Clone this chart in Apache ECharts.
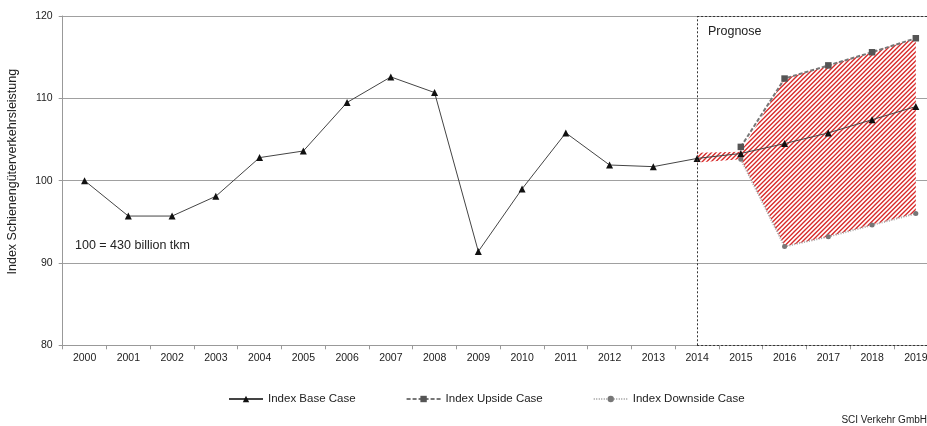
<!DOCTYPE html>
<html>
<head>
<meta charset="utf-8">
<script src="https://cdn.jsdelivr.net/npm/echarts@6/dist/echarts.min.js"></script>
<style>html,body{margin:0;padding:0;background:#fff}#c{width:927px;height:426px}</style>
</head>
<body>
<div id="c"></div>
<script>
const years = ['2000','2001','2002','2003','2004','2005','2006','2007','2008','2009','2010','2011','2012','2013','2014','2015','2016','2017','2018','2019'];
const baseCase = [100.0,95.7,95.7,98.1,102.8,103.6,109.5,112.6,110.7,91.4,99.0,105.8,101.9,101.7,102.7,103.3,104.5,105.8,107.4,109.0];
const upsideCase = [null,null,null,null,null,null,null,null,null,null,null,null,null,null,null,104.1,112.4,114.0,115.6,117.3];
const downsideCase = [null,null,null,null,null,null,null,null,null,null,null,null,null,null,null,102.6,92.0,93.2,94.6,96.0];
const bandLow = [null,null,null,null,null,null,null,null,null,null,null,null,null,null,102.2,102.6,92.0,93.2,94.6,96.0];
const bandHigh = [null,null,null,null,null,null,null,null,null,null,null,null,null,null,103.4,103.5,112.4,114.0,115.6,117.3];
const yTicks = [80,90,100,110,120];
const forecastStart = '2014';

const bandSpan = bandHigh.map((v,i)=> v==null ? null : +(v - bandLow[i]).toFixed(2));

// red diagonal hatch pattern (up-right stripes)
const T = 9;
const pc = document.createElement('canvas');
pc.width = T; pc.height = T;
const g = pc.getContext('2d');
g.fillStyle = '#ffffff'; g.fillRect(0,0,T,T);
g.strokeStyle = '#d82a2a'; g.lineWidth = 1.4;
g.beginPath();
for (const off of [-T, -T/2, 0, T/2, T]) {
  g.moveTo(off - 1, T + 1); g.lineTo(off + T + 1, -1);
}
g.stroke();

const FONT = '"Liberation Sans", Arial, sans-serif';
const chart = echarts.init(document.getElementById('c'), null, {renderer:'canvas'});
chart.setOption({
  animation:false,
  textStyle:{fontFamily:FONT},
  grid:{left:62.7, top:16, bottom:80.7, width:875, containLabel:false, outerBoundsMode:'none'},
  xAxis:{
    type:'category', data:years, boundaryGap:true,
    axisLine:{lineStyle:{color:'#999', width:1}},
    axisTick:{show:true, length:4, lineStyle:{color:'#999'}},
    axisLabel:{color:'#222', fontSize:10.5, margin:7, interval:0}
  },
  yAxis:{
    type:'value', min:yTicks[0], max:yTicks[yTicks.length-1], interval:10,
    name:'Index Schienengüterverkehrsleistung', nameLocation:'middle', nameGap:44,
    nameTextStyle:{color:'#222', fontSize:12.5, padding:[0,0,0,18]},
    axisLine:{show:true, lineStyle:{color:'#999', width:1}},
    axisTick:{show:true, length:4, lineStyle:{color:'#999'}},
    axisLabel:{color:'#222', fontSize:10.5, margin:10},
    splitLine:{show:true, lineStyle:{color:'#a0a0a0', width:1.2}}
  },
  legend:{
    top:388, left:223, itemGap:50, itemWidth:34, itemHeight:8,
    textStyle:{color:'#222', fontSize:11.5},
    data:['Index Base Case','Index Upside Case','Index Downside Case']
  },
  graphic:[
    {type:'text', left:75, top:239, style:{text:'100 = 430 billion tkm', fill:'#222', font:'12.5px '+FONT}},
    {type:'text', left:708, top:25, style:{text:'Prognose', fill:'#222', font:'12.5px '+FONT}},
    {type:'text', right:0, top:415, style:{text:'SCI Verkehr GmbH', fill:'#222', font:'10px '+FONT}}
  ],
  series:[
    {
      name:'bandLow', type:'line', data:bandLow, stack:'band', symbol:'none',
      lineStyle:{opacity:0}, silent:true, z:1
    },
    {
      name:'bandSpan', type:'line', data:bandSpan, stack:'band', symbol:'none',
      lineStyle:{opacity:0}, silent:true, z:1,
      areaStyle:{color:{image:pc, repeat:'repeat'}, opacity:1}
    },
    {
      name:'Index Upside Case', type:'line', data:upsideCase, symbol:'rect', symbolSize:6.5,
      itemStyle:{color:'#555'}, lineStyle:{color:'#777', width:2, type:[4,2]}, z:3
    },
    {
      name:'Index Downside Case', type:'line', data:downsideCase, symbol:'circle', symbolSize:5,
      itemStyle:{color:'#777'}, lineStyle:{color:'#aaa', width:2, type:[1,1.5]}, z:3
    },
    {
      name:'Index Base Case', type:'line', data:baseCase, symbol:'triangle', symbolSize:7,
      itemStyle:{color:'#111'}, lineStyle:{color:'#444', width:1}, z:4,
      markLine:{
        silent:true, symbol:'none', label:{show:false},
        lineStyle:{color:'#333', width:1, type:[2,2]},
        data:[
          {xAxis:forecastStart},
          [{coord:[forecastStart, yTicks[4]]},{x:950, y:16}],
          [{coord:[forecastStart, yTicks[0]]},{x:950, y:345.3}]
        ]
      }
    }
  ]
});
</script>
</body>
</html>
